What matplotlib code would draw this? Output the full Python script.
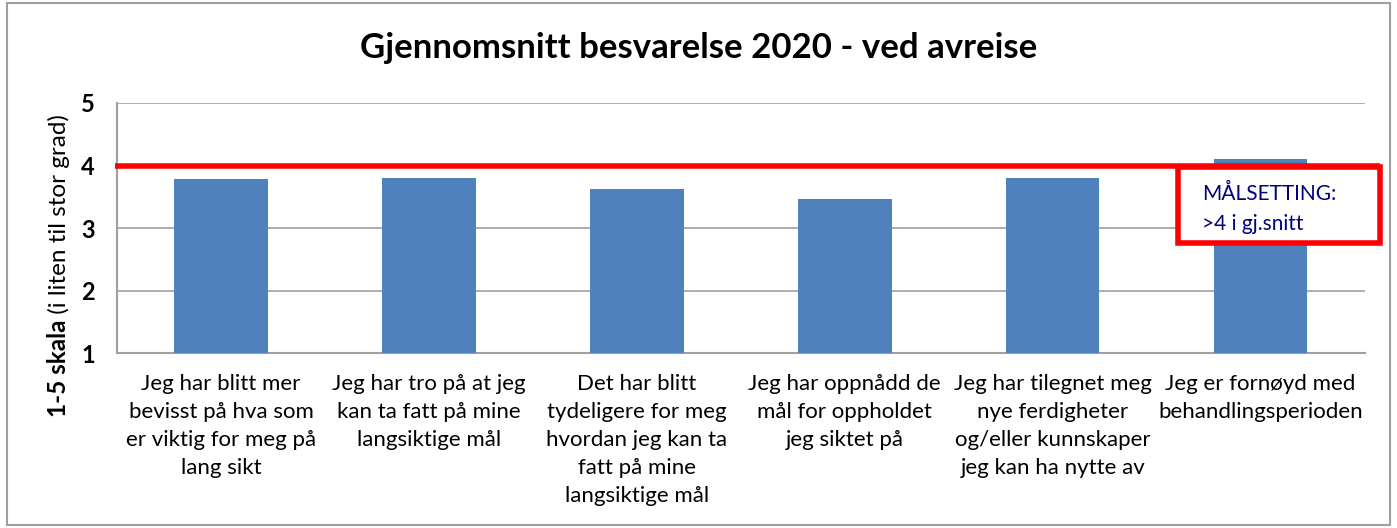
import matplotlib.pyplot as plt
from matplotlib.patches import Rectangle
from matplotlib.text import Annotation

# Data
kategorier = [
    "Jeg har blitt mer\nbevisst på hva som\ner viktig for meg på\nlang sikt",
    "Jeg har tro på at jeg\nkan ta fatt på mine\nlangsiktige mål",
    "Det har blitt\ntydeligere for meg\nhvordan jeg kan ta\nfatt på mine\nlangsiktige mål",
    "Jeg har oppnådd de\nmål for oppholdet\njeg siktet på",
    "Jeg har tilegnet meg\nnye ferdigheter\nog/eller kunnskaper\njeg kan ha nytte av",
    "Jeg er fornøyd med\nbehandlingsperioden",
]
verdier = [3.79, 3.80, 3.62, 3.46, 3.80, 4.10]
maal = 4.0
y_ticks = [1, 2, 3, 4, 5]

plt.rcParams['font.family'] = ['Lato', 'DejaVu Sans']

fig = plt.figure(figsize=(13.97, 5.28), dpi=100)
ax = fig.add_axes([0.0838, 0.331, 0.893, 0.474])

x = range(len(verdier))
ax.bar(x, [v - 1 for v in verdier], bottom=1, width=0.45, color='#4f81bd', zorder=3)

ax.set_ylim(1, 5)
ax.set_xlim(-0.5, len(verdier) - 0.5)
ax.set_yticks(y_ticks)
ax.set_yticklabels([str(t) for t in y_ticks], fontsize=17, fontweight='bold')
ax.yaxis.grid(True, color='#a0a0a0', linewidth=1.2, zorder=0)
ax.set_xticks(list(x))
ax.set_xticklabels(kategorier, fontsize=16, linespacing=1.5)
ax.tick_params(axis='x', length=0, pad=15)
ax.tick_params(axis='y', length=0, pad=16)
for s in ['top', 'right']:
    ax.spines[s].set_visible(False)
for s in ['left', 'bottom']:
    ax.spines[s].set_color('#a0a0a0')
    ax.spines[s].set_linewidth(1.5)

# y label: bold part + normal part
t1 = fig.text(0.042, 1 - 417 / 528, "1-5 skala", rotation=90, fontsize=17.5,
              fontweight='bold', ha='center', va='bottom')
fig.add_artist(Annotation(" (i liten til stor grad)", xy=(0.5, 1), xycoords=t1,
                          rotation=90, fontsize=17.5, ha='center', va='bottom'))

fig.text(0.5, 1 - 48 / 528, "Gjennomsnitt besvarelse 2020 - ved avreise", fontsize=25,
         fontweight='bold', ha='center', va='center')

# target line
ax.plot([-0.51, 5.572], [maal, maal], color='#ff0000', linewidth=4, zorder=5,
        clip_on=False, solid_capstyle='butt')

# target box
boks = Rectangle((1178 / 1397, 1 - 243 / 528), (1380 - 1178) / 1397, (243 - 167) / 528,
                 transform=fig.transFigure, facecolor='white', edgecolor='#ff0000',
                 linewidth=4, zorder=6)
fig.add_artist(boks)
fig.text(1202 / 1397, 1 - 194 / 528, "MÅLSETTING:", fontsize=15, color='#000080',
         ha='left', va='center', zorder=10)
fig.text(1202 / 1397, 1 - 224 / 528, ">4 i gj.snitt", fontsize=15, color='#000080',
         ha='left', va='center', zorder=10)

# outer border
fig.add_artist(Rectangle((7 / 1397, 0.005), 1383 / 1397, 0.99, transform=fig.transFigure,
                         fill=False, edgecolor='#a0a0a0', linewidth=1.5))

fig.savefig('out.png', dpi=100)
